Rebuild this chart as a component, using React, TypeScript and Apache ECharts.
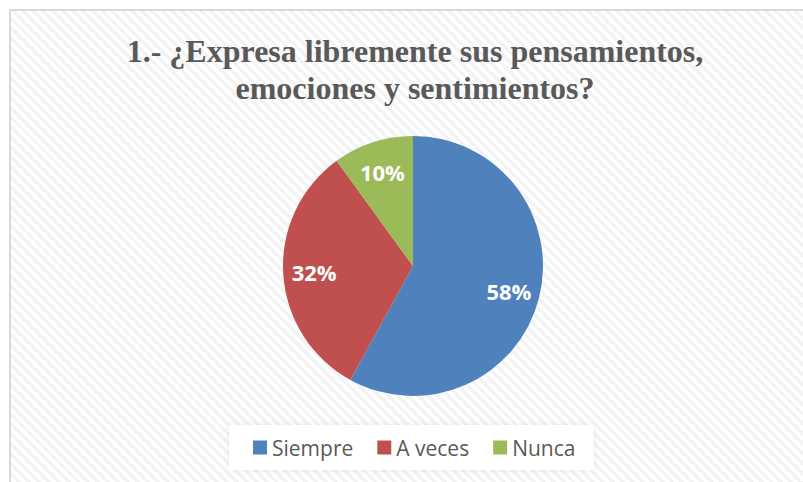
import React, { useEffect, useRef } from "react";
import * as echarts from "echarts";

const titleLines = ["1.- ¿Expresa libremente sus pensamientos,", "emociones y sentimientos?"];
const categories = ["Siempre", "A veces", "Nunca"];
const values = [58, 32, 10];
const colors = ["#4f81bd", "#c0504d", "#9bbb59"];

export default function App() {
  const ref = useRef<HTMLDivElement>(null);
  useEffect(() => {
    if (!ref.current) return;
    const chart = echarts.init(ref.current, null, { renderer: "svg" });
    const data = categories.map((c, i) => ({ name: c, value: values[i], itemStyle: { color: colors[i] } }));
    chart.setOption({
      animation: false,
      backgroundColor: "transparent",
      title: {
        text: titleLines.join("\n"),
        left: 410,
        top: 27,
        textAlign: "center",
        textStyle: {
          fontFamily: "Liberation Serif",
          fontWeight: "bold",
          fontSize: 32,
          lineHeight: 37,
          color: "#595959",
        },
      },
      legend: {
        data: categories,
        left: 229,
        top: 425,
        orient: "horizontal",
        icon: "rect",
        itemWidth: 14,
        itemHeight: 14,
        itemGap: 24,
        padding: [12, 18, 12, 24],
        backgroundColor: "#ffffff",
        shadowBlur: 6,
        shadowColor: "rgba(0,0,0,0.08)",
        textStyle: { fontFamily: "Open Sans", fontSize: 21, color: "#595959", padding: [0, 0, 0, 0] },
      },
      series: [
        {
          type: "pie",
          center: [413, 266],
          radius: [0, 130],
          startAngle: 90,
          clockwise: true,
          label: { show: false },
          labelLine: { show: false },
          silent: true,
          data,
        },
        {
          type: "pie",
          center: [413, 266],
          radius: [62, 130],
          startAngle: 90,
          clockwise: true,
          silent: true,
          itemStyle: { color: "rgba(0,0,0,0)" },
          label: {
            show: true,
            position: "inside",
            formatter: "{c}%",
            color: "#ffffff",
            fontFamily: "Open Sans",
            fontWeight: "bold",
            fontSize: 22,
          },
          labelLine: { show: false },
          data: categories.map((c, i) => ({ name: c, value: values[i] })),
        },
      ],
    });
    return () => chart.dispose();
  }, []);
  return (
    <div style={{ position: "absolute", left: 0, top: 0, width: 803, height: 482, overflow: "hidden", background: "#ffffff" }}>
      <div
        style={{
          position: "absolute",
          left: 9,
          top: 9,
          width: 820,
          height: 500,
          border: "2px solid #d9d9d9",
          background: "repeating-linear-gradient(45deg, #ffffff 0px, #ffffff 3.5px, #f3f3f3 3.5px, #f3f3f3 7px)",
        }}
      />
      <div ref={ref} style={{ position: "absolute", left: 0, top: 0, width: 803, height: 482 }} />
    </div>
  );
}
